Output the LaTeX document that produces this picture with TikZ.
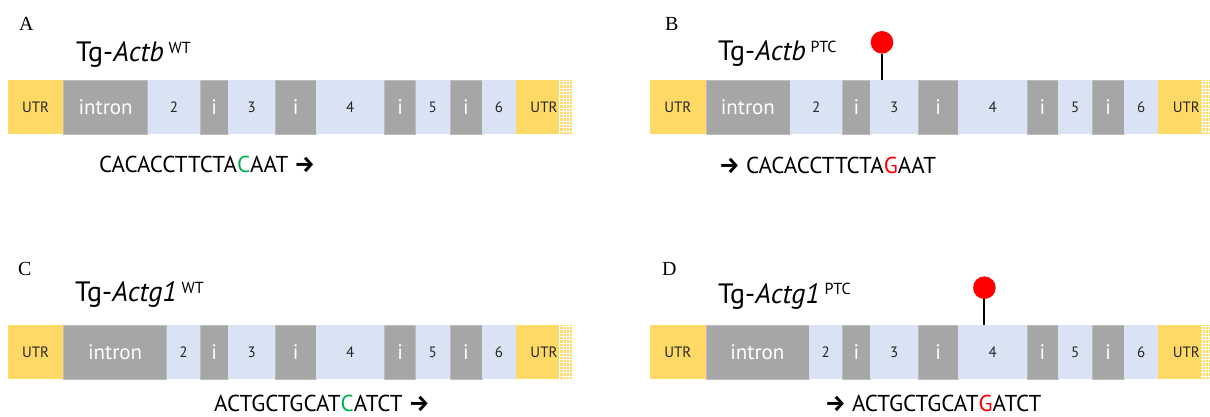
\documentclass[tikz,border=0pt]{standalone}
\usepackage{fontspec}
\setmainfont{PT Sans}
\newfontfamily\symfont{Fira Sans}
\newfontfamily\letterfont{Liberation Serif}

\definecolor{utrY}{HTML}{FFD966}
\definecolor{exonB}{HTML}{DAE3F3}
\definecolor{intronG}{HTML}{A6A6A6}
\definecolor{intronEdge}{HTML}{BDBDBD}
\definecolor{txtdark}{HTML}{262626}
\definecolor{seqgreen}{HTML}{00B050}
\definecolor{seqred}{HTML}{FF0000}

\tikzset{
  seg/.style={inner sep=0pt, outer sep=0pt, minimum height=54, anchor=north west,
    text=txtdark, font=\fontsize{15}{15}\selectfont},
  utr/.style={seg, fill=utrY},
  exon/.style={seg, fill=exonB},
  intr/.style={seg, fill=intronG, draw=intronEdge, line width=0.6pt,
    text=white, font=\fontsize{21}{21}\selectfont},
  hatchline/.style={white, line width=0.9pt},
  panel/.style={inner sep=0pt, anchor=base west, font=\letterfont\fontsize{20}{20}\selectfont},
  title/.style={inner sep=0pt, anchor=base west, font=\fontsize{28}{28}\selectfont, text=black},
  seqtext/.style={inner sep=0pt, anchor=base west, font=\fontsize{23}{23}\selectfont, text=black},
  pinhead/.style={circle, fill=seqred, inner sep=0pt, minimum size=22.6},
  stem/.style={black, line width=2pt},
}

\newcommand\supword[1]{{\fontsize{16}{16}\selectfont\raisebox{8.5pt}{#1}}}
\newcommand\rarrow{{\symfont\bfseries →}}

% gene bar: #1 prefix, #2 x shift, #3 top y, #4 right end of the first intron
\newcommand\genebar[4]{%
  \begin{scope}[xshift=#2]
    \node[utr,  minimum width=55.8]          (#1-u5) at (7.7,#3)   {UTR};
    \node[intr, minimum width={#4-63.5}]     (#1-in) at (63.5,#3)  {intron};
    \node[exon, minimum width={200.3-#4}]    (#1-e2) at (#4,#3)    {2};
    \node[intr, minimum width=27.7]          (#1-i1) at (200.3,#3) {i};
    \node[exon, minimum width=47.6]          (#1-e3) at (228,#3)   {3};
    \node[intr, minimum width=40.4]          (#1-i2) at (275.6,#3) {i};
    \node[exon, minimum width=68.6]          (#1-e4) at (316,#3)   {4};
    \node[intr, minimum width=31]            (#1-i3) at (384.6,#3) {i};
    \node[exon, minimum width=34.4]          (#1-e5) at (415.6,#3) {5};
    \node[intr, minimum width=32]            (#1-i4) at (450,#3)   {i};
    \node[exon, minimum width=34]            (#1-e6) at (482,#3)   {6};
    \node[utr,  minimum width=56]            (#1-u3) at (516,#3)   {UTR};
    \begin{scope}
      \clip (558.7,#3) rectangle (572.5,{#3+54});
      \foreach \gx in {559.8,563.1,...,572.5}
        \draw[hatchline] (\gx,#3) -- (\gx,{#3+54});
      \foreach \gy in {1.6,4.9,...,54}
        \draw[hatchline] (558.7,{#3+\gy}) -- (572.5,{#3+\gy});
    \end{scope}
  \end{scope}}

\begin{document}
\begin{tikzpicture}[x=1pt, y=-1pt]
  \useasboundingbox[fill=white] (0,0) rectangle (1210,416);

  % panel letters
  \node[panel] (lA) at (19,30.7)  {A};
  \node[panel] (lB) at (665,30.2) {B};
  \node[panel] (lC) at (18,275)   {C};
  \node[panel] (lD) at (662,275)  {D};

  % construct names
  \node[title] (tA) at (76,61.7)    {Tg-\textit{Actb}\,\supword{WT}};
  \node[title] (tB) at (718,60.5)   {Tg-\textit{Actb}\,\supword{PTC}};
  \node[title] (tC) at (75,301.7)   {Tg-\textit{Actg1}\,\supword{WT}};
  \node[title] (tD) at (718,303)    {Tg-\textit{Actg1}\,\supword{PTC}};

  % gene bars
  \genebar{a}{0}{80}{147.7}
  \genebar{b}{642.3}{80}{147.7}
  \genebar{c}{0}{325}{166.7}
  \genebar{d}{642.3}{325}{166.7}

  % premature termination codons
  \node[pinhead] (pB) at (882,42.3) {};
  \draw[stem] (pB.south) -- (pB.south |- b-e3.north);
  \node[pinhead] (pD) at (984.4,287.7) {};
  \draw[stem] (pD.south) -- (pD.south |- d-e4.north);

  % sequences
  \node[seqtext] (sA) at (99,172)    {CACACCTTCTA\textcolor{seqgreen}{C}AAT \rarrow};
  \node[seqtext] (sB) at (719,173)   {\rarrow{} CACACCTTCTA\textcolor{seqred}{G}AAT};
  \node[seqtext] (sC) at (214,411.7) {ACTGCTGCAT\textcolor{seqgreen}{C}ATCT \rarrow};
  \node[seqtext] (sD) at (825,411.7) {\rarrow{} ACTGCTGCAT\textcolor{seqred}{G}ATCT};
\end{tikzpicture}
\end{document}
